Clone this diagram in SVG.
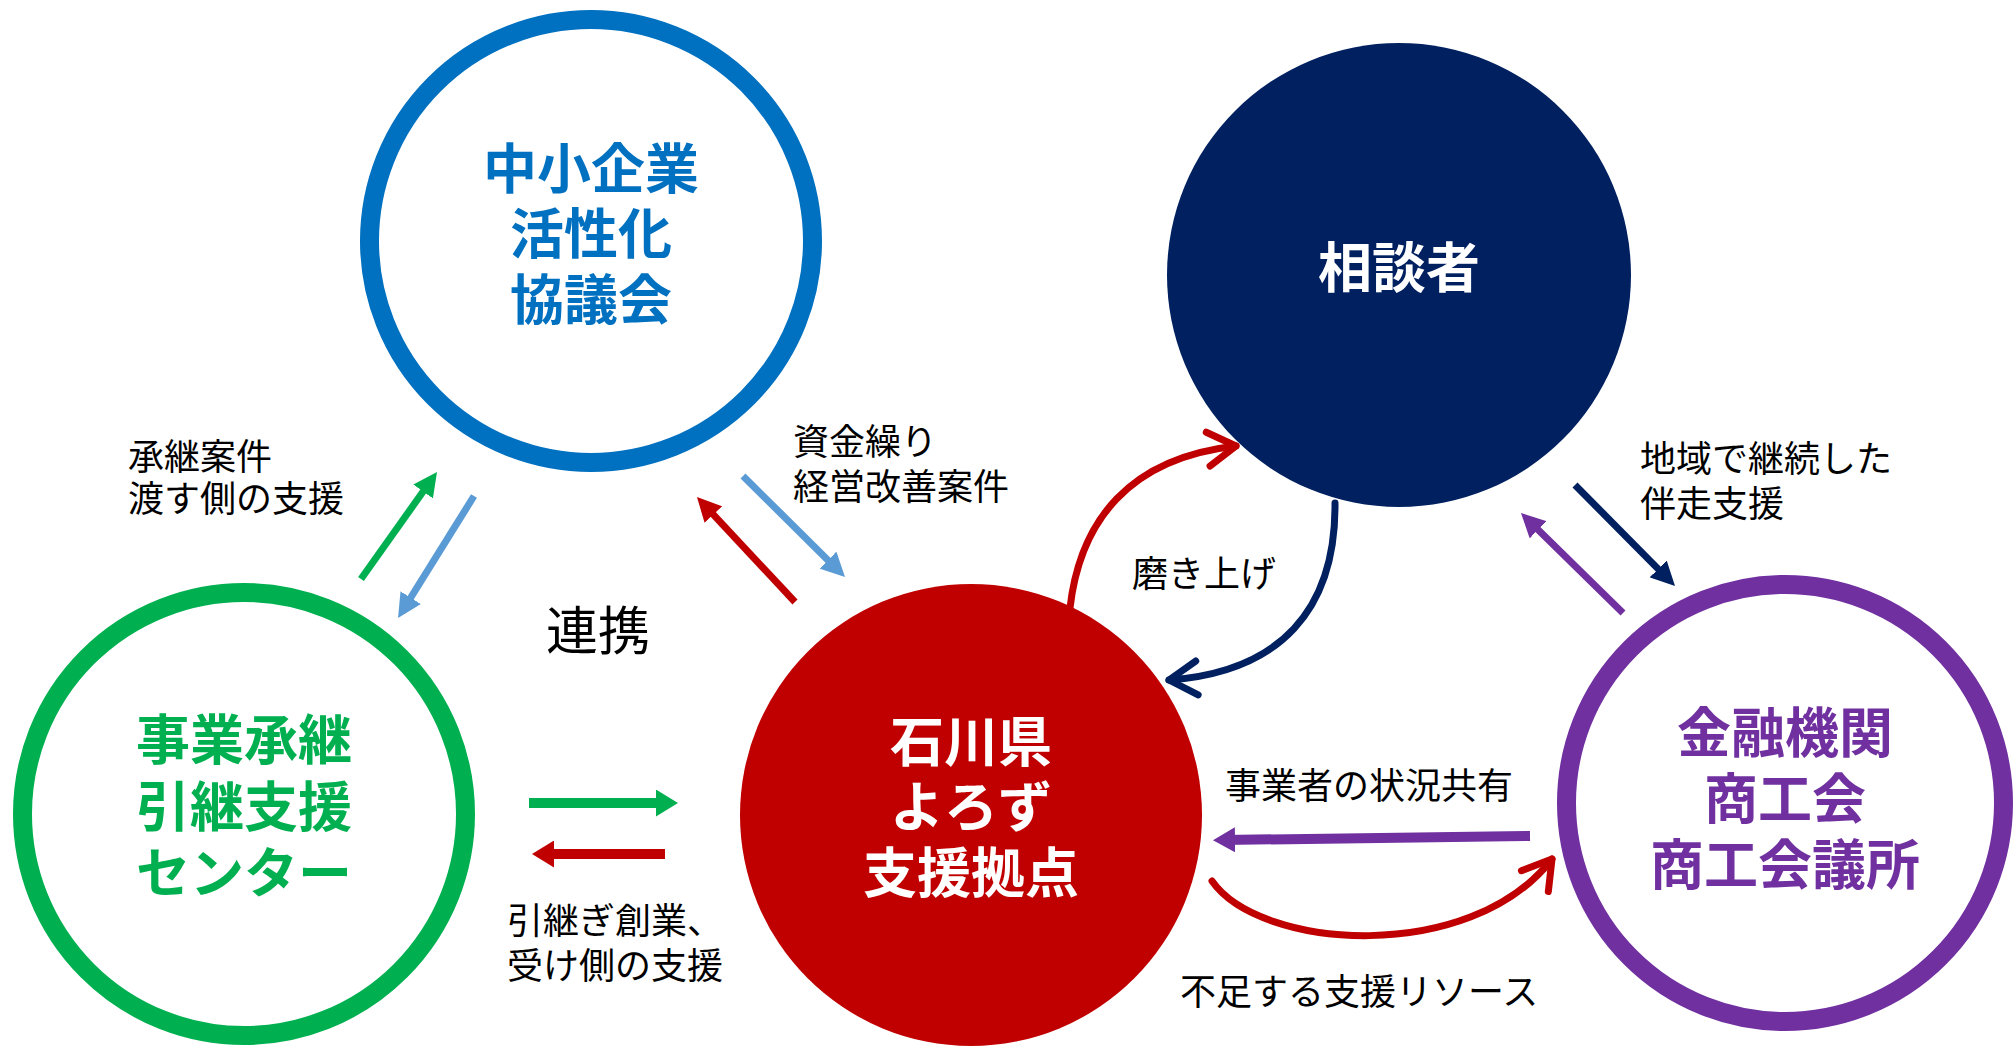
<svg xmlns="http://www.w3.org/2000/svg" width="2014" height="1046" viewBox="0 0 2014 1046">
<style>
.ring{fill:none;stroke-width:19}
.node{font-family:"Liberation Sans","Noto Sans CJK JP","Noto Sans CJK SC",sans-serif;font-weight:700;font-size:54px;text-anchor:middle}
.lbl{font-family:"Liberation Sans","Noto Sans CJK JP","Noto Sans CJK SC",sans-serif;font-weight:400;font-size:36px;fill:#000}
.thin{fill:none;stroke-width:7;stroke-linecap:butt}
.thick{fill:none;stroke-width:10;stroke-linecap:butt}
.curve{fill:none;stroke-width:7;stroke-linecap:round}
</style>
<defs>
<marker id="tG" markerUnits="userSpaceOnUse" viewBox="0 0 24 24" markerWidth="24" markerHeight="24" refX="15" refY="12" orient="auto"><path d="M0,0 L24,12 L0,24 z" fill="#00B050"/></marker>
<marker id="tB" markerUnits="userSpaceOnUse" viewBox="0 0 24 24" markerWidth="24" markerHeight="24" refX="15" refY="12" orient="auto"><path d="M0,0 L24,12 L0,24 z" fill="#5B9BD5"/></marker>
<marker id="tR" markerUnits="userSpaceOnUse" viewBox="0 0 24 24" markerWidth="24" markerHeight="24" refX="15" refY="12" orient="auto"><path d="M0,0 L24,12 L0,24 z" fill="#C00000"/></marker>
<marker id="tN" markerUnits="userSpaceOnUse" viewBox="0 0 24 24" markerWidth="24" markerHeight="24" refX="15" refY="12" orient="auto"><path d="M0,0 L24,12 L0,24 z" fill="#002060"/></marker>
<marker id="tP" markerUnits="userSpaceOnUse" viewBox="0 0 24 24" markerWidth="24" markerHeight="24" refX="15" refY="12" orient="auto"><path d="M0,0 L24,12 L0,24 z" fill="#7030A0"/></marker>
<marker id="hG" markerUnits="userSpaceOnUse" viewBox="0 0 22 27" markerWidth="22" markerHeight="27" refX="12" refY="13.5" orient="auto"><path d="M0,0 L22,13.5 L0,27 z" fill="#00B050"/></marker>
<marker id="hR" markerUnits="userSpaceOnUse" viewBox="0 0 22 27" markerWidth="22" markerHeight="27" refX="12" refY="13.5" orient="auto"><path d="M0,0 L22,13.5 L0,27 z" fill="#C00000"/></marker>
<marker id="hP" markerUnits="userSpaceOnUse" viewBox="0 0 22 25" markerWidth="22" markerHeight="25" refX="12" refY="12.5" orient="auto"><path d="M0,0 L22,12.5 L0,25 z" fill="#7030A0"/></marker>
<marker id="cR" markerUnits="userSpaceOnUse" viewBox="-40 -26 48 52" markerWidth="48" markerHeight="52" refX="0" refY="0" orient="auto" overflow="visible"><path d="M-28,-17 L0,0 L-28,17" fill="none" stroke="#C00000" stroke-width="7" stroke-linecap="round" stroke-linejoin="round"/></marker>
<marker id="cN" markerUnits="userSpaceOnUse" viewBox="-40 -26 48 52" markerWidth="48" markerHeight="52" refX="0" refY="0" orient="auto" overflow="visible"><path d="M-28,-17 L0,0 L-28,17" fill="none" stroke="#002060" stroke-width="7" stroke-linecap="round" stroke-linejoin="round"/></marker>
</defs>

<g id="node-kyogikai">
<circle class="ring" cx="591" cy="241" r="221.5" stroke="#0070C0"/>
<text class="node" fill="#0070C0"><tspan x="591" y="189">中小企業</tspan><tspan x="591" y="254">活性化</tspan><tspan x="591" y="320">協議会</tspan></text>
</g>

<g id="node-hikitsugi">
<circle class="ring" cx="244" cy="814" r="221.5" stroke="#00B050"/>
<text class="node" fill="#00B050"><tspan x="244" y="760">事業承継</tspan><tspan x="244" y="827">引継支援</tspan><tspan x="244" y="893">センター</tspan></text>
</g>

<g id="node-yorozu">
<circle cx="971" cy="815" r="231" fill="#C00000"/>
<text class="node" fill="#FFFFFF"><tspan x="971" y="762">石川県</tspan><tspan x="971" y="827">よろず</tspan><tspan x="971" y="893">支援拠点</tspan></text>
</g>

<g id="node-sodansha">
<circle cx="1399" cy="275" r="232" fill="#002060"/>
<text class="node" fill="#FFFFFF" x="1399" y="288">相談者</text>
</g>

<g id="node-kinyu">
<circle class="ring" cx="1785" cy="803" r="218.5" stroke="#7030A0"/>
<text class="node" fill="#7030A0"><tspan x="1785" y="753">金融機関</tspan><tspan x="1785" y="819">商工会</tspan><tspan x="1785" y="885">商工会議所</tspan></text>
</g>

<g id="connectors">
<line class="thin" x1="361" y1="579" x2="431.8" y2="479.3" stroke="#00B050" marker-end="url(#tG)"/>
<line class="thin" x1="474" y1="496" x2="402.8" y2="610.4" stroke="#5B9BD5" marker-end="url(#tB)"/>
<line class="thin" x1="795" y1="602" x2="703.1" y2="503.6" stroke="#C00000" marker-end="url(#tR)"/>
<line class="thin" x1="743" y1="476" x2="838.6" y2="570.7" stroke="#5B9BD5" marker-end="url(#tB)"/>
<line class="thin" x1="1575" y1="485" x2="1668.7" y2="579.6" stroke="#002060" marker-end="url(#tN)"/>
<line class="thin" x1="1623" y1="613" x2="1527.4" y2="519.3" stroke="#7030A0" marker-end="url(#tP)"/>
<line class="thick" x1="529" y1="803" x2="668" y2="803" stroke="#00B050" marker-end="url(#hG)"/>
<line class="thick" x1="665" y1="854" x2="542" y2="854" stroke="#C00000" marker-end="url(#hR)"/>
<line class="thick" x1="1530" y1="836" x2="1223" y2="840" stroke="#7030A0" stroke-width="9" marker-end="url(#hP)"/>
<path class="curve" d="M1070,608 C1080,520 1130,458 1236,446" stroke="#C00000" marker-end="url(#cR)"/>
<path class="curve" d="M1335,503 C1336,610 1280,672 1169,680" stroke="#002060" marker-end="url(#cN)"/>
<path class="curve" d="M1212,881 C1260,950 1470,965 1552,859" stroke="#C00000" marker-end="url(#cR)"/>
</g>

<g id="labels">
<text class="lbl"><tspan x="128" y="470">承継案件</tspan><tspan x="128" y="512">渡す側の支援</tspan></text>
<text class="lbl"><tspan x="793" y="455">資金繰り</tspan><tspan x="793" y="500">経営改善案件</tspan></text>
<text class="lbl" x="546" y="650" style="font-size:52px">連携</text>
<text class="lbl"><tspan x="507" y="934">引継ぎ創業、</tspan><tspan x="507" y="979">受け側の支援</tspan></text>
<text class="lbl" x="1132" y="587">磨き上げ</text>
<text class="lbl" x="1225" y="799">事業者の状況共有</text>
<text class="lbl" x="1180" y="1005">不足する支援リソース</text>
<text class="lbl"><tspan x="1640" y="472">地域で継続した</tspan><tspan x="1640" y="517">伴走支援</tspan></text>
</g>
</svg>
